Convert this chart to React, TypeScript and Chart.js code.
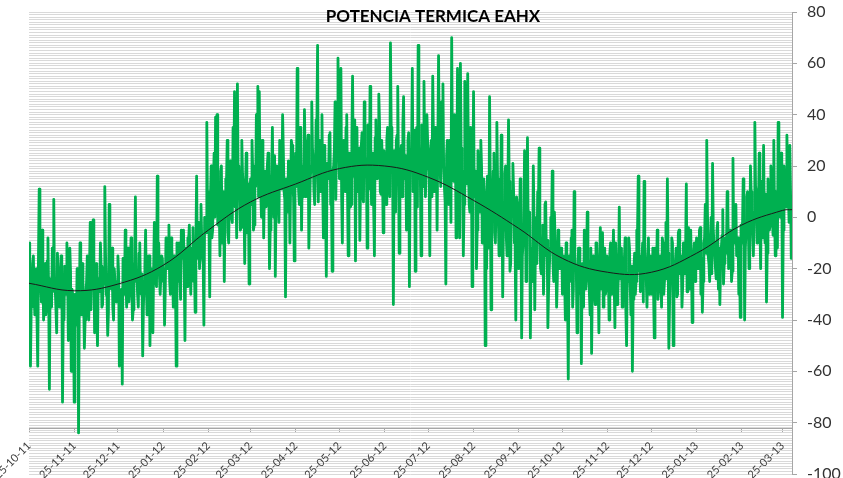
import { useEffect, useRef } from "react";
import { Chart, registerables } from "chart.js";

Chart.register(...registerables);

const TITLE = "POTENCIA TERMICA EAHX";

// day index (from 25-10-2011) of each labelled tick
const TICK_DAYS = [0, 31, 61, 92, 123, 152, 183, 213, 244, 274, 305, 336, 366, 397, 427, 458, 489, 517];
const TICK_LABELS = [
  "25-10-11", "25-11-11", "25-12-11", "25-01-12", "25-02-12", "25-03-12",
  "25-04-12", "25-05-12", "25-06-12", "25-07-12", "25-08-12", "25-09-12",
  "25-10-12", "25-11-12", "25-12-12", "25-01-13", "25-02-13", "25-03-13",
];
const X_MAX = 523.5;

const Y_MIN = -100;
const Y_MAX = 80;
const Y_MAJOR = 20;
const X_AXIS_CROSS = -82.2;

// first reading of each day (from 25-10-2011)
const POWER_AM_Q4_2011 = [
  -10, -58, -30, -15, -38, -20, -58, 11, -25, -5, -40, -18, -35, -8, -67, -30, -12, 7, -28, -45, -20, -35, -15, -72, -40, -22, -10, -48, -12, -60, -30,
  -72, -35, -20, -84, -10, -38, -25, -51, -30, -15, -40, -2, -22, -1, -45, -18, -50, -28, -10, -35, -20, 12, -30, -46, 5, -25, -12, -40, -20, -33,
  -15, -58, -30, -65, -20, -5, -35, -12, -28, -8, -40, -18, 8, -22, -35, -10, -30, -54, -25, -5, -38, -15, -50, -20, -45, -2, -25, 16, -10, -30, -15,
];
const POWER_AM_Q1_2012 = [
  -25, -42, -8, -20, -3, -30, -12, -35, -18, -58, -25, -10, -32, -15, -5, -48, -20, -8, -3, -30, -12, -25, -37, 16, -10, -20, 5, -15, -42, -5, 37,
  10, -31, 20, -5, 25, 39, 40, 5, -15, 20, -8, -25, 15, 30, -10, 22, 0, 35, 49, 10, 52, 20, -5, 30, 12, -18, 25, 5, -26,
  15, 30, -5, 20, 40, 51, 49, 10, 30, -8, 18, 5, 25, -20, 12, 35, 0, -23, 20, 8, 30, 15, 40, 10, -31, 5, 22, -10, 30, 12, -17,
];
const POWER_AM_Q2_2012 = [
  25, 58, 10, 35, -5, 20, 42, 8, 28, -12, 15, 45, 22, 5, 38, 67, 30, 10, 40, -8, 25, -23, 15, 32, 5, -21, 20, 45, 28, 62,
  15, 58, -10, 30, 10, 40, -15, 25, 5, 55, 20, -17, 35, 12, -9, 28, 8, 45, 18, -12, 30, 51, 5, 25, -15, 38, 15, 48, 10, 30, -6,
  22, 5, 35, 15, 68, 20, -34, 10, 30, 51, -14, 25, 8, 47, 15, -5, 30, -27, 20, 58, 10, -21, 35, 67, 15, -15, 28, 53, 8, 40,
];
const POWER_AM_Q3_2012 = [
  20, -15, 30, 55, 10, 35, -5, 63, 20, 45, 52, 12, -26, 30, 5, 25, 70, 15, 40, -8, 58, 20, 60, 10, -15, 53, 25, 56, 5, 35, -27,
  49, 10, -20, 26, 5, 30, -10, 15, -50, -20, 10, 47, -36, 5, 25, -10, 37, 0, 15, 32, -31, -5, 20, -15, 38, -21, 10, 21, -10, -40, 5,
  -20, 15, -47, -10, 26, -25, 31, 0, -47, -15, 20, -36, -5, 10, 27, -20, -8, -30, 5, -15, -43, -20, 0, 18, -25, -10, -35, -5, -20, -12,
];
const POWER_AM_Q4_2012 = [
  -30, -15, -40, -20, -63, -25, -8, -35, 10, -20, -45, -12, -30, -57, -18, -5, -28, 2, -22, -38, -53, -15, -30, -10, -25, -45, -4, -20, -35, -12, -28,
  -18, -40, -10, -25, -5, -43, -22, -30, 4, -15, -35, -20, -8, -50, -25, -12, -38, -60, -20, -30, -5, 16, -15, -25, -10, 14, -20, -35, -8, -22,
  -30, -12, -47, -20, -5, -28, -15, -35, -10, -25, -2, 15, -51, -20, -8, -50, -25, -12, -30, -5, -18, -35, -10, -22, 13, -15, -28, -5, -41, -15, -25,
];
const POWER_AM_Q1_2013 = [
  -8, -20, -5, -30, -37, -10, 5, 30, -15, -25, 0, 21, -10, -20, -5, -28, -34, -12, 3, -18, -8, 10, -20, -5, -25, 23, -10, 5, -15, -30, -39,
  -10, 15, -40, -5, 10, -20, 20, 0, -15, 37, 10, -8, 25, -20, 5, 28, -10, -33, 15, -5, 20, 0, 30, -15, 10, 37, 5, 25,
  -39, 20, 5, 32, 10, 28, -16,
];

// second reading of each day
const POWER_PM_Q4_2011 = [
  -25, -35, -18, -30, -22, -40, -15, -28, -33, -20, -26, -38, -17, -30, -24, -35, -20, -29, -36, -14, -27, -32, -22, -38, -19, -30, -25, -34, -21, -28, -36,
  -30, -42, -22, -35, -28, -18, -33, -40, -25, -30, -20, -36, -27, -15, -32, -38, -24, -29, -19, -34, -26, -14, -31, -37, -22, -28, -35, -20, -30, -25,
  -22, -35, -28, -16, -30, -24, -12, -33, -20, -27, -36, -18, -25, -30, -14, -28, -22, -35, -19, -26, -32, -15, -24, -29, -20, -10, -27, -18, -23, -30, -16,
];
const POWER_PM_Q1_2012 = [
  -20, -28, -12, -18, -25, -8, -22, -15, -26, -10, -19, -24, -5, -16, -21, -12, -27, -9, -18, -14, -4, -20, -11, -16, -2, -13, -8, -18, 0, -6, 2,
  -5, 8, -8, 12, 0, 15, -3, 6, 18, -10, 10, 2, 14, -6, 9, 16, -2, 12, 4, -8, 15, 8, -4, 17, 6, 10, -6, 13, 3,
  5, 18, -3, 12, 22, 8, 15, 0, 25, 10, 4, 20, 13, -5, 17, 9, 24, 6, 14, -2, 19, 11, 26, 7, 15, 2, 21, 12, 28, 8, 16,
];
const POWER_PM_Q2_2012 = [
  12, 25, 5, 30, 18, 8, 22, 14, 32, 3, 20, 27, 10, 16, 35, 6, 24, 19, 12, 28, 2, 21, 15, 33, 9, 18, 26, 7, 23, 30,
  18, 8, 28, 22, 35, 12, 25, 4, 30, 16, 38, 20, 10, 27, 15, 33, 6, 24, 19, 36, 11, 28, 22, 3, 31, 17, 25, 37, 9, 21, 26,
  14, 30, 22, 8, 35, 18, 26, 2, 32, 20, 12, 28, 36, 15, 24, 6, 33, 19, 27, 10, 34, 22, 4, 29, 16, 36, 12, 25, 20, 30,
];
const POWER_PM_Q3_2012 = [
  18, 26, 8, 30, 15, 22, -5, 28, 12, 35, 20, 6, 24, 16, 30, -2, 25, 14, 32, 10, 22, -8, 27, 18, 5, 29, 13, 20, 2, 24, 10,
  8, 18, -5, 14, 2, 20, -10, 10, 4, 16, -12, 12, 0, 18, -6, 8, 15, -15, 5, 12, -4, 17, -8, 6, 14, -18, 3, 10, -10, 8, -2,
  -8, 4, -15, -2, 8, -20, -5, 2, -12, -25, 0, -10, -18, 5, -6, -22, -3, -14, 6, -9, -28, -12, -4, -18, 2, -15, -24, -8, -20, -12,
];
const POWER_PM_Q4_2012 = [
  -18, -25, -10, -30, -15, -22, -5, -28, -14, -20, -33, -12, -24, -18, -35, -8, -22, -16, -30, -12, -26, -20, -34, -10, -23, -17, -28, -6, -21, -30, -15,
  -22, -14, -30, -18, -26, -10, -34, -20, -24, -12, -28, -16, -36, -22, -8, -27, -19, -32, -14, -25, -6, -21, -29, -17, -33, -11, -24, -20, -30, -15,
  -20, -28, -12, -25, -32, -16, -22, -8, -30, -18, -24, -14, -34, -20, -10, -26, -17, -31, -6, -22, -15, -27, -20, -12, -29, -4, -23, -18, -26, -10, -21,
];
const POWER_PM_Q1_2013 = [
  -12, -20, -4, -16, -25, -8, -14, 2, -18, -10, -22, -5, -15, -24, -2, -12, -19, -7, -26, -9, -14, 4, -17, -6, -21, -10, 0, -15, -8, -20, -3,
  -5, 4, -12, 8, -2, -15, 10, -6, 2, 12, -10, 5, -4, 14, -8, 0, 9, -14, 6, -3, 15, -7, 3, 10, -12, 8, 0, 12,
  -5, 12, 4, 16, -2, 10, 6,
];

const POWER_AM = [
  ...POWER_AM_Q4_2011, ...POWER_AM_Q1_2012, ...POWER_AM_Q2_2012,
  ...POWER_AM_Q3_2012, ...POWER_AM_Q4_2012, ...POWER_AM_Q1_2013,
];
const POWER_PM = [
  ...POWER_PM_Q4_2011, ...POWER_PM_Q1_2012, ...POWER_PM_Q2_2012,
  ...POWER_PM_Q3_2012, ...POWER_PM_Q4_2012, ...POWER_PM_Q1_2013,
];

// smooth trend curve, read at each month tick + end
const TREND_DAYS = [0, 31, 61, 92, 123, 152, 183, 213, 244, 274, 305, 336, 366, 397, 427, 458, 489, 517, 523.5];
const TREND_VALUES = [-25.7, -28.6, -26, -18.7, -5, 6, 13, 19, 20, 15.6, 6.6, -4.3, -16, -21.4, -21.4, -14, -3, 2.7, 3];

const FONT = "Lato, 'Open Sans', sans-serif";

const titlePlugin = {
  id: "overlayTitle",
  afterDraw(chart: any) {
    const { ctx } = chart;
    ctx.save();
    ctx.font = `bold 17px ${FONT}`;
    ctx.fillStyle = "#000";
    ctx.textAlign = "center";
    ctx.textBaseline = "middle";
    ctx.fillText(TITLE, 433, 17);
    ctx.restore();
  },
};

export default function App() {
  const ref = useRef<HTMLCanvasElement | null>(null);

  useEffect(() => {
    document.body.style.margin = "0";
    const canvas = ref.current;
    if (!canvas) return;
    const powerPoints: { x: number; y: number }[] = [];
    POWER_AM.forEach((v, i) => {
      powerPoints.push({ x: i, y: v });
      powerPoints.push({ x: i + 0.5, y: POWER_PM[i] });
    });
    const chart = new Chart(canvas, {
      type: "line",
      data: {
        datasets: [
          {
            label: "trend",
            data: TREND_DAYS.map((d, i) => ({ x: d, y: TREND_VALUES[i] })),
            borderColor: "#1a1a1a",
            borderWidth: 1,
            pointRadius: 0,
            tension: 0.4,
            order: 0,
          },
          {
            label: "power",
            data: powerPoints,
            borderColor: "#00b050",
            borderWidth: 2.8,
            pointRadius: 0,
            tension: 0,
            borderJoinStyle: "round",
            order: 1,
          },
        ],
      },
      options: {
        animation: false,
        responsive: false,
        events: [],
        layout: { padding: { left: 29, top: 12, right: 0, bottom: 4 } },
        plugins: {
          legend: { display: false },
          tooltip: { enabled: false },
          title: { display: false },
        },
        scales: {
          x: {
            type: "linear",
            min: 0,
            max: X_MAX,
            position: { y: X_AXIS_CROSS },
            afterBuildTicks: (s: any) => {
              s.ticks = TICK_DAYS.map((v) => ({ value: v }));
            },
            afterFit: (s: any) => {
              s.paddingLeft = 0;
              s.paddingRight = 0;
            },
            ticks: {
              autoSkip: false,
              minRotation: 45,
              maxRotation: 45,
              padding: 7,
              color: "#404040",
              font: { family: FONT, size: 11 },
              callback: (_v: any, i: number) => TICK_LABELS[i],
            },
            grid: {
              drawOnChartArea: false,
              drawTicks: true,
              tickLength: 4,
              color: "#a6a6a6",
            },
            border: { display: true, color: "#a6a6a6" },
          },
          y: {
            type: "linear",
            position: "right",
            min: Y_MIN,
            max: Y_MAX,
            afterFit: (s: any) => {
              s.width = 51;
              s.paddingTop = 0;
              s.paddingBottom = 0;
            },
            ticks: {
              stepSize: 1,
              autoSkip: false,
              padding: 10,
              color: "#333",
              font: { family: FONT, size: 16 },
              callback: (v: any) => (Number(v) % Y_MAJOR === 0 ? String(v) : ""),
            },
            grid: {
              color: "#d9d9d9",
              tickLength: 5,
              tickColor: (c: any) =>
                c.tick && c.tick.value % Y_MAJOR === 0 ? "#a6a6a6" : "rgba(0,0,0,0)",
            },
            border: { display: true, color: "#a6a6a6" },
          },
        },
      },
      plugins: [titlePlugin],
    });
    return () => chart.destroy();
  }, []);

  return (
    <div style={{ width: 843, height: 478, position: "relative", background: "#fff" }}>
      <canvas ref={ref} width={843} height={478} style={{ display: "block" }} />
    </div>
  );
}
